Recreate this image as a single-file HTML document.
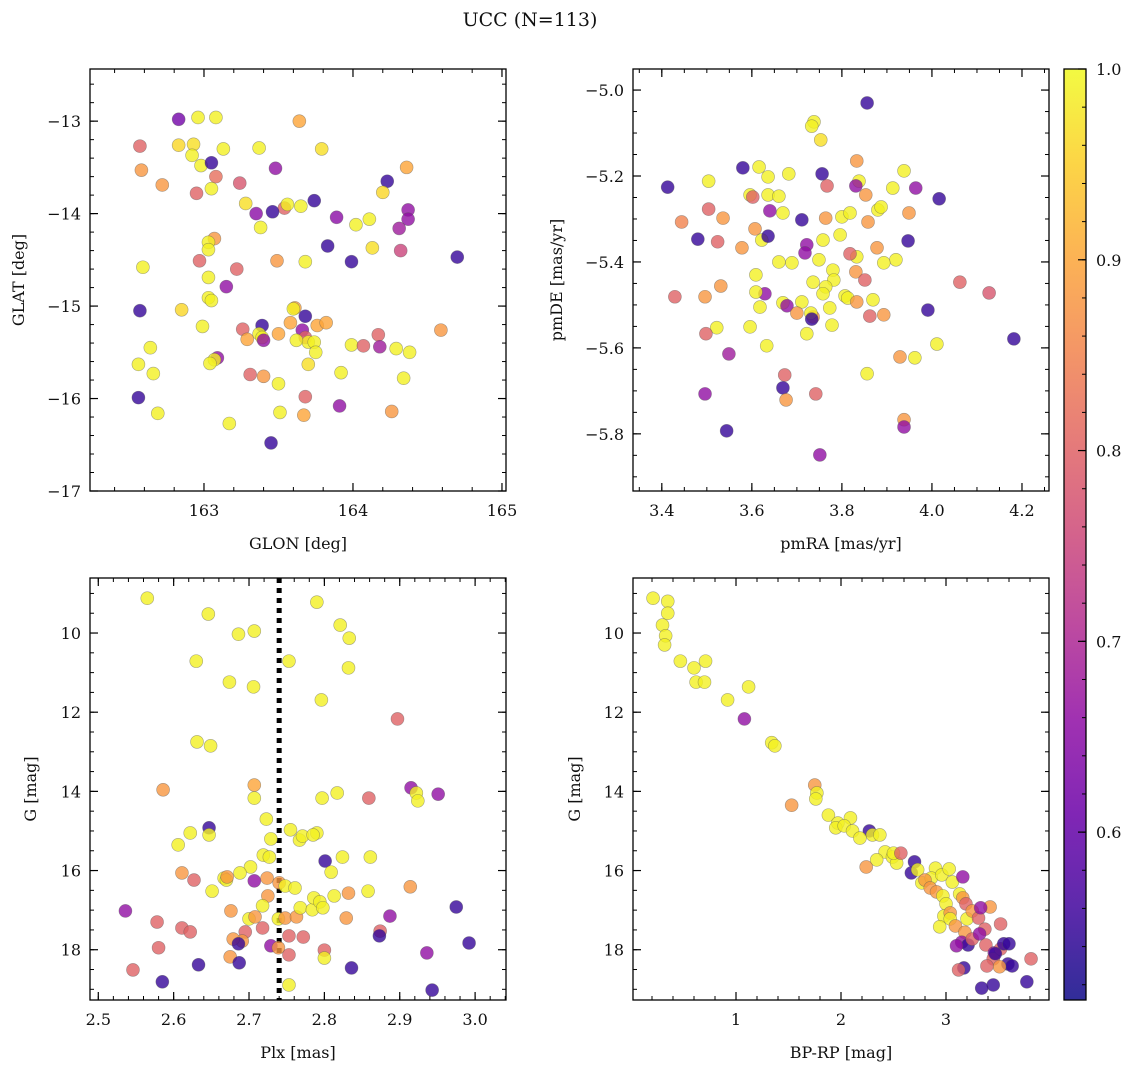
<!DOCTYPE html>
<html><head><meta charset="utf-8"><style>
body{margin:0;background:#fff}
svg text{font-family:"DejaVu Serif","Liberation Serif",serif;fill:#111}
</style></head><body>
<svg id="fig" width="1136" height="1068" viewBox="0 0 1136 1068" xmlns="http://www.w3.org/2000/svg">
<defs><linearGradient id="cbg" x1="0" y1="1" x2="0" y2="0"></linearGradient></defs>
<text x="530" y="26" font-size="19" text-anchor="middle">UCC (N=113)</text>
</svg>
<script>
// ---- data: top-left (GLON/GLAT)
const glon=[162.83,162.96,163.08,162.57,162.83,162.93,162.92,162.98,163.05,162.58,163.13,163.08,162.72,162.95,163.05,163.24,163.64,163.37,163.79,163.48,164.36,164.23,164.20,163.28,163.54,163.56,163.65,163.74,163.35,163.46,163.89,164.11,164.02,164.37,164.37,164.31,163.38,163.07,163.03,163.03,163.83,164.13,164.32,162.59,162.97,163.49,163.68,163.99,164.70,163.22,163.03,163.15,162.85,162.57,163.03,163.05,163.61,163.60,163.68,162.99,163.58,163.76,163.82,163.39,163.26,163.37,163.39,163.29,163.40,163.50,163.66,163.68,163.70,163.74,163.62,163.75,163.70,164.17,163.99,164.07,164.18,164.29,164.38,164.59,163.09,163.07,163.04,162.64,162.56,162.66,163.31,163.40,163.92,164.34,163.50,162.56,163.68,163.91,162.69,163.51,163.67,164.26,163.17,163.45];
const glat=[-12.98,-12.96,-12.96,-13.27,-13.26,-13.25,-13.37,-13.48,-13.45,-13.53,-13.30,-13.60,-13.69,-13.78,-13.73,-13.67,-13.0,-13.29,-13.30,-13.51,-13.50,-13.65,-13.77,-13.89,-13.94,-13.90,-13.92,-13.86,-14.00,-13.98,-14.04,-14.06,-14.12,-13.96,-14.06,-14.16,-14.15,-14.27,-14.31,-14.39,-14.35,-14.37,-14.40,-14.58,-14.51,-14.51,-14.52,-14.52,-14.47,-14.60,-14.69,-14.79,-15.04,-15.05,-14.91,-14.94,-15.02,-15.03,-15.11,-15.22,-15.18,-15.21,-15.18,-15.21,-15.25,-15.30,-15.34,-15.36,-15.37,-15.30,-15.26,-15.34,-15.39,-15.39,-15.37,-15.50,-15.63,-15.31,-15.42,-15.43,-15.44,-15.46,-15.50,-15.26,-15.56,-15.58,-15.62,-15.45,-15.63,-15.73,-15.74,-15.76,-15.72,-15.78,-15.84,-15.99,-15.98,-16.08,-16.16,-16.15,-16.18,-16.14,-16.27,-16.48];
const prob1=[.62,.99,.99,.8,.96,.97,.99,.99,.55,.88,.99,.82,.88,.8,.99,.78,.9,.99,.97,.66,.9,.55,.96,.97,.8,.99,.99,.55,.65,.55,.65,.99,.99,.66,.66,.68,.99,.88,.99,.99,.55,.97,.75,.99,.8,.88,.99,.55,.55,.8,.99,.66,.96,.55,.99,.99,.9,.99,.55,.99,.9,.9,.9,.55,.8,.99,.99,.9,.66,.9,.66,.8,.99,.99,.99,.99,.97,.8,.99,.8,.68,.99,.99,.88,.66,.99,.99,.99,.99,.99,.8,.88,.99,.99,.99,.55,.8,.66,.99,.99,.9,.88,.99,.55];
// ---- data: top-right (pmRA/pmDE)
const pmra=[3.856,3.738,3.733,3.753,3.413,3.580,3.616,3.636,3.682,3.833,3.938,3.964,4.016,3.504,3.596,3.636,3.602,3.660,3.756,3.767,3.838,3.853,3.913,3.831,3.444,3.504,3.536,3.524,3.480,3.578,3.607,3.622,3.640,3.636,3.669,3.711,3.722,3.764,3.800,3.818,3.858,3.880,3.887,3.949,3.947,3.878,3.758,3.796,3.718,3.749,3.833,3.920,3.893,3.609,3.660,3.689,3.531,3.629,3.609,3.780,3.782,3.736,3.831,3.851,3.764,3.758,3.807,3.869,3.813,3.496,3.429,3.618,3.669,3.711,3.678,3.700,3.736,3.731,3.773,3.833,3.862,3.893,3.991,4.062,4.127,3.522,3.596,3.633,3.498,3.722,3.778,3.733,3.929,3.856,4.011,3.962,3.673,3.669,3.549,3.676,3.742,3.496,3.544,3.938,3.938,3.751,4.182,3.818];
const pmde=[-5.030,-5.074,-5.084,-5.116,-5.226,-5.181,-5.179,-5.202,-5.195,-5.165,-5.188,-5.228,-5.253,-5.212,-5.244,-5.244,-5.249,-5.247,-5.195,-5.223,-5.212,-5.244,-5.228,-5.223,-5.307,-5.277,-5.298,-5.353,-5.347,-5.367,-5.323,-5.349,-5.281,-5.340,-5.286,-5.302,-5.360,-5.298,-5.295,-5.286,-5.307,-5.279,-5.272,-5.286,-5.351,-5.367,-5.349,-5.337,-5.379,-5.395,-5.388,-5.395,-5.402,-5.430,-5.400,-5.402,-5.456,-5.474,-5.470,-5.419,-5.442,-5.447,-5.423,-5.442,-5.458,-5.474,-5.479,-5.488,-5.484,-5.481,-5.481,-5.505,-5.495,-5.493,-5.502,-5.519,-5.528,-5.519,-5.507,-5.493,-5.526,-5.523,-5.512,-5.447,-5.472,-5.553,-5.551,-5.595,-5.567,-5.567,-5.547,-5.533,-5.621,-5.660,-5.591,-5.623,-5.663,-5.693,-5.614,-5.721,-5.707,-5.707,-5.793,-5.767,-5.784,-5.849,-5.579,-5.381];
const prob2=[.55,.99,.99,.97,.55,.55,.99,.99,.99,.88,.99,.66,.55,.99,.99,.99,.8,.99,.55,.8,.99,.88,.99,.66,.85,.8,.88,.8,.55,.88,.88,.99,.66,.55,.99,.55,.66,.88,.99,.99,.88,.99,.99,.88,.55,.88,.99,.99,.66,.99,.99,.99,.99,.99,.99,.99,.88,.66,.99,.99,.99,.99,.88,.8,.99,.99,.99,.99,.99,.88,.8,.99,.99,.99,.66,.88,.88,.99,.99,.88,.8,.88,.55,.8,.78,.99,.99,.99,.8,.99,.99,.55,.88,.99,.99,.99,.8,.55,.68,.88,.8,.66,.55,.88,.66,.66,.55,.8];
// ---- data: bottom-left (Plx/G)
const plx=[2.565,2.646,2.790,2.821,2.833,2.686,2.707,2.630,2.832,2.753,2.674,2.706,2.796,2.897,2.631,2.649,2.707,2.915,2.922,2.924,2.951,2.817,2.797,2.859,2.707,2.723,2.647,2.647,2.622,2.606,2.586,2.755,2.729,2.719,2.727,2.767,2.771,2.790,2.785,2.801,2.824,2.861,2.809,2.702,2.688,2.667,2.670,2.671,2.707,2.627,2.651,2.676,2.724,2.740,2.748,2.761,2.725,2.718,2.700,2.708,2.739,2.748,2.763,2.768,2.784,2.786,2.794,2.798,2.813,2.832,2.858,2.914,2.887,2.829,2.611,2.536,2.874,2.873,2.975,2.729,2.753,2.718,2.611,2.622,2.695,2.691,2.679,2.675,2.687,2.686,2.580,2.578,2.739,2.753,2.772,2.800,2.800,2.753,2.546,2.585,2.633,2.836,2.936,2.992,2.943];
const gmag1=[9.12,9.52,9.22,9.80,10.13,10.03,9.95,10.71,10.88,10.71,11.24,11.36,11.69,12.17,12.75,12.85,13.84,13.91,14.04,14.24,14.07,14.04,14.17,14.17,14.17,14.70,14.92,15.10,15.05,15.35,13.96,14.97,15.20,15.61,15.66,15.23,15.13,15.05,15.10,15.76,15.66,15.66,16.04,15.91,16.06,16.19,16.24,16.16,16.26,16.24,16.52,17.02,16.19,16.31,16.39,16.44,16.64,16.89,17.22,17.17,17.22,17.20,17.17,16.94,16.99,16.69,16.79,16.94,16.64,16.57,16.52,16.41,17.15,17.20,16.06,17.02,17.53,17.65,16.92,17.90,17.65,17.45,17.45,17.55,17.55,17.78,17.73,18.18,18.33,17.85,17.95,17.30,17.95,18.13,17.68,18.01,18.21,18.89,18.51,18.81,18.38,18.46,18.08,17.83,19.02];
const prob3=[.99,.99,.99,.99,.99,.99,.99,.99,.99,.99,.99,.99,.99,.8,.99,.99,.9,.66,.99,.99,.66,.99,.99,.8,.99,.99,.55,.99,.99,.99,.88,.99,.99,.99,.99,.99,.99,.99,.99,.55,.99,.99,.99,.99,.99,.99,.99,.88,.66,.8,.99,.88,.88,.88,.99,.99,.88,.99,.99,.88,.99,.88,.88,.99,.99,.99,.99,.99,.99,.88,.99,.88,.66,.88,.88,.66,.8,.55,.55,.66,.8,.8,.8,.8,.8,.88,.88,.88,.55,.55,.8,.8,.88,.8,.8,.8,.99,.99,.8,.55,.55,.55,.66,.55,.55];
// ---- data: bottom-right (BP-RP/G)
const bprp=[0.21,0.35,0.35,0.30,0.33,0.32,0.47,0.60,0.71,0.62,0.70,0.92,1.12,1.08,1.34,1.37,1.75,1.77,1.76,1.53,1.88,1.97,2.09,1.95,2.03,2.11,2.27,2.30,2.18,2.37,2.42,2.49,2.53,2.34,2.50,2.24,2.57,2.70,2.67,2.73,2.77,2.90,2.86,2.96,3.03,3.06,3.16,2.80,2.85,2.91,2.97,3.00,3.13,3.16,3.19,2.98,3.04,3.04,3.09,3.20,3.25,3.31,3.37,3.42,3.18,3.15,3.21,3.25,3.32,3.38,3.46,3.45,3.52,3.55,3.52,3.60,3.59,3.63,3.51,3.77,3.81,3.45,3.34,3.17,3.12,3.10,2.94,3.33,3.47,3.39];
const gmag2=[9.12,9.20,9.50,9.80,10.07,10.30,10.71,10.88,10.71,11.24,11.24,11.69,11.36,12.17,12.77,12.85,13.84,14.04,14.19,14.35,14.60,14.80,14.67,14.92,14.87,15.00,15.00,15.10,15.18,15.10,15.53,15.66,15.81,15.73,15.56,15.91,15.56,15.78,16.06,15.98,16.31,15.94,16.19,16.11,15.96,16.29,16.16,16.24,16.44,16.54,16.64,16.84,16.59,16.69,16.84,17.15,17.07,17.22,17.40,17.22,17.02,17.20,17.48,16.92,17.56,17.81,17.88,17.73,17.60,17.88,18.08,18.23,17.98,17.85,17.35,17.85,18.36,18.41,18.43,18.81,18.23,18.89,18.97,18.46,18.51,17.90,17.42,16.94,18.10,18.41];
const prob4=[.99,.99,.99,.99,.99,.99,.99,.99,.99,.99,.99,.99,.99,.66,.99,.99,.88,.99,.99,.88,.99,.99,.99,.99,.99,.99,.55,.99,.99,.99,.99,.99,.99,.99,.99,.88,.8,.55,.55,.99,.99,.99,.99,.99,.99,.99,.66,.88,.88,.88,.99,.99,.99,.88,.8,.99,.88,.99,.88,.99,.88,.8,.8,.88,.88,.66,.55,.8,.66,.8,.66,.8,.8,.55,.8,.55,.55,.55,.88,.55,.8,.55,.55,.55,.8,.66,.99,.66,.55,.8];
// ---- colorbar ticks
const cbTicks=[0.6,0.7,0.8,0.9,1.0];
const vmin=0.512, vmax=1.0;

const NS='http://www.w3.org/2000/svg';
const svg=document.getElementById('fig');
function mk(tag,attrs,parent){const e=document.createElementNS(NS,tag);for(const k in attrs)e.setAttribute(k,attrs[k]);(parent||svg).appendChild(e);return e;}
const stops=[[13,8,135],[65,4,157],[106,0,168],[143,13,164],[177,42,144],[204,71,120],[225,100,98],[242,132,75],[252,166,54],[252,206,37],[240,249,33]];
function plasma(t){t=Math.max(0,Math.min(1,t))*10;const i=Math.min(9,Math.floor(t)),f=t-i;const a=stops[i],b=stops[i+1];return 'rgb('+[0,1,2].map(k=>Math.round(a[k]+(b[k]-a[k])*f)).join(',')+')';}
function cmap(p){return plasma((p-vmin)/(vmax-vmin));}
function fmt(v,d){const s=v.toFixed(d);return v<0?'\u2212'+s.slice(1):s;}

function panel(cfg){
  const {name,x0,x1,y0,y1,xd,yd,xt,yt,xminor,yminor,xdec,ydec,xlab,ylab,ylabx,xs,ys,ps}=cfg;
  const sx=v=>x0+(v-xd[0])/(xd[1]-xd[0])*(x1-x0);
  const sy=v=>y0+(v-yd[0])/(yd[1]-yd[0])*(y1-y0);
  const g=mk('g',{});
  
  
  if(cfg.vline!==undefined){
    const l=mk('line',{x1:sx(cfg.vline),x2:sx(cfg.vline),y1:y0,y2:y1,stroke:'#000','stroke-width':5,'stroke-dasharray':'5 5'},g);
    
    
  }
  for(let i=0;i<xs.length;i++){
    const c=mk('circle',{cx:sx(xs[i]),cy:sy(ys[i]),r:6.5,fill:cmap(ps[i]),'fill-opacity':0.8,stroke:'#555','stroke-opacity':0.5,'stroke-width':0.6},g);
    
    
  }
  const fr=mk('rect',{x:x0,y:y0,width:x1-x0,height:y1-y0,fill:'none',stroke:'#000','stroke-width':1.3},g);
  
  
  const lo=Math.min(xd[0],xd[1]),hi=Math.max(xd[0],xd[1]);
  for(let v=Math.ceil(lo/xminor)*xminor;v<=hi;v+=xminor){const x=sx(v);
    mk('line',{x1:x,x2:x,y1:y1,y2:y1-4,stroke:'#000'},g);mk('line',{x1:x,x2:x,y1:y0,y2:y0+4,stroke:'#000'},g);}
  const ylo=Math.min(yd[0],yd[1]),yhi=Math.max(yd[0],yd[1]);
  for(let v=Math.ceil(ylo/yminor)*yminor;v<=yhi;v+=yminor){const y=sy(v);
    mk('line',{x1:x0,x2:x0+4,y1:y,y2:y,stroke:'#000'},g);mk('line',{x1:x1,x2:x1-4,y1:y,y2:y,stroke:'#000'},g);}
  xt.forEach(v=>{const x=sx(v);
    mk('line',{x1:x,x2:x,y1:y1,y2:y1-8,stroke:'#000','stroke-width':1.2},g);mk('line',{x1:x,x2:x,y1:y0,y2:y0+8,stroke:'#000','stroke-width':1.2},g);
    const t=mk('text',{x:x,y:y1+25,'font-size':16,'text-anchor':'middle'},g);t.textContent=fmt(v,xdec);
    
    });
  yt.forEach(v=>{const y=sy(v);
    mk('line',{x1:x0,x2:x0+8,y1:y,y2:y,stroke:'#000','stroke-width':1.2},g);mk('line',{x1:x1,x2:x1-8,y1:y,y2:y,stroke:'#000','stroke-width':1.2},g);
    const t=mk('text',{x:x0-9,y:y+6,'font-size':16,'text-anchor':'end'},g);t.textContent=fmt(v,ydec);
    
    });
  const xl=mk('text',{x:(x0+x1)/2,y:y1+58,'font-size':16,'text-anchor':'middle'},g);xl.textContent=xlab;
  
  
  const ym=(y0+y1)/2;
  const yl=mk('text',{x:ylabx,y:ym,'font-size':16,'text-anchor':'middle',transform:'rotate(-90 '+ylabx+' '+ym+')'},g);yl.textContent=ylab;
  
  
}
panel({name:'glon-glat',x0:90,x1:506,y0:69,y1:491,xd:[162.235,165.027],yd:[-12.436,-17.0],xt:[163,164,165],yt:[-13,-14,-15,-16,-17],xminor:0.2,yminor:0.2,xdec:0,ydec:0,xlab:'GLON [deg]',ylab:'GLAT [deg]',ylabx:24,xs:glon,ys:glat,ps:prob1});
panel({name:'pm',x0:633,x1:1049,y0:69,y1:491,xd:[3.336,4.260],yd:[-4.951,-5.933],xt:[3.4,3.6,3.8,4.0,4.2],yt:[-5.0,-5.2,-5.4,-5.6,-5.8],xminor:0.05,yminor:0.05,xdec:1,ydec:1,xlab:'pmRA [mas/yr]',ylab:'pmDE [mas/yr]',ylabx:562,xs:pmra,ys:pmde,ps:prob2});
panel({name:'plx-g',x0:90,x1:506,y0:578,y1:1000,xd:[2.489,3.041],yd:[8.61,19.27],xt:[2.5,2.6,2.7,2.8,2.9,3.0],yt:[10,12,14,16,18],xminor:0.02,yminor:0.5,xdec:1,ydec:0,xlab:'Plx [mas]',ylab:'G [mag]',ylabx:36,xs:plx,ys:gmag1,ps:prob3,vline:2.74});
panel({name:'cmd',x0:633,x1:1049,y0:578,y1:1000,xd:[0.019,3.981],yd:[8.61,19.27],xt:[1,2,3],yt:[10,12,14,16,18],xminor:0.2,yminor:0.5,xdec:0,ydec:0,xlab:'BP-RP [mag]',ylab:'G [mag]',ylabx:580,xs:bprp,ys:gmag2,ps:prob4});
// colorbar
const grad=document.getElementById('cbg');
for(let i=0;i<=20;i++){mk('stop',{offset:(i/20),'stop-color':plasma(i/20),'stop-opacity':0.85},grad);}
const cb=mk('g',{});


const cy0=69,cy1=1000,cx0=1064,cx1=1086;
const cys=v=>cy1-(v-vmin)/(vmax-vmin)*(cy1-cy0);
mk('rect',{x:cx0,y:cy0,width:cx1-cx0,height:cy1-cy0,fill:'url(#cbg)',stroke:'#000','stroke-width':1.3},cb);
for(let v=0.52;v<=1.0001;v+=0.02){mk('line',{x1:cx1,x2:cx1-4,y1:cys(v),y2:cys(v),stroke:'#000'},cb);}
cbTicks.forEach(v=>{const y=cys(v);mk('line',{x1:cx1,x2:cx1-8,y1:y,y2:y,stroke:'#000','stroke-width':1.2},cb);
  const t=mk('text',{x:cx1+10,y:y+6,'font-size':16},cb);t.textContent=v.toFixed(1);
  
  });
</script>
</body></html>
